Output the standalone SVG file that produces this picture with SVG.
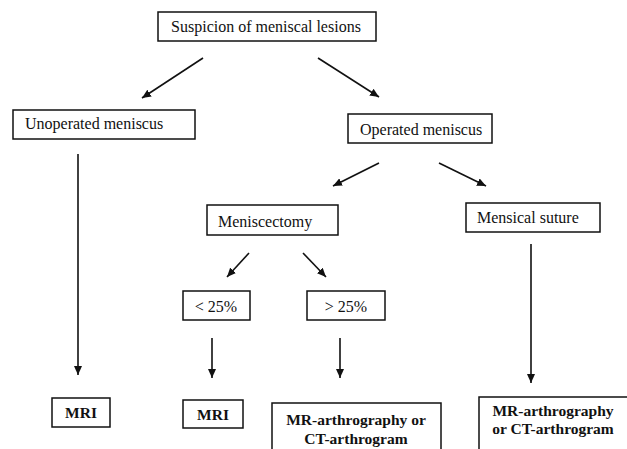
<svg xmlns="http://www.w3.org/2000/svg" width="627" height="449" viewBox="0 0 627 449">
<style>
.box{fill:#fff;stroke:#111;stroke-width:1.5}
.t{font-family:"Liberation Serif","Times New Roman",serif;font-size:16px;fill:#111}
.b{font-weight:bold;font-size:15.5px}
.c{text-anchor:middle}
.ln{stroke:#111;stroke-width:1.6;fill:none;marker-end:url(#ah)}
</style>
<defs>
<marker id="ah" markerUnits="userSpaceOnUse" markerWidth="10" markerHeight="8" refX="9" refY="4" orient="auto">
<path d="M0,0 L9,4 L0,8 Z" fill="#111"/>
</marker>
</defs>
<rect width="627" height="449" fill="#fff"/>
<g id="connectors">
<line class="ln" x1="203" y1="58" x2="142" y2="98"/>
<line class="ln" x1="318" y1="58" x2="379" y2="97"/>
<line class="ln" x1="78" y1="154" x2="78" y2="375"/>
<line class="ln" x1="379" y1="163" x2="333" y2="186"/>
<line class="ln" x1="439" y1="163" x2="486" y2="186"/>
<line class="ln" x1="531" y1="244" x2="531" y2="383"/>
<line class="ln" x1="249" y1="253" x2="227" y2="277"/>
<line class="ln" x1="303" y1="253" x2="326" y2="277"/>
<line class="ln" x1="212" y1="338" x2="212" y2="378"/>
<line class="ln" x1="340" y1="338" x2="340" y2="378"/>
</g>
<g id="n-suspicion"><rect class="box" x="158" y="12" width="218" height="29"/><text class="t c" x="266" y="32">Suspicion of meniscal lesions</text></g>
<g id="n-unoperated"><rect class="box" x="13" y="110" width="182" height="29"/><text class="t" x="25" y="129">Unoperated meniscus</text></g>
<g id="n-operated"><rect class="box" x="348" y="114" width="144" height="29"/><text class="t" x="360" y="135">Operated meniscus</text></g>
<g id="n-meniscectomy"><rect class="box" x="207" y="205" width="131" height="30"/><text class="t" x="218" y="227">Meniscectomy</text></g>
<g id="n-suture"><rect class="box" x="466" y="203" width="134" height="29"/><text class="t" x="477" y="223">Mensical suture</text></g>
<g id="n-lt25"><rect class="box" x="183" y="291" width="67" height="29"/><text class="t c" x="216" y="312">&lt; 25%</text></g>
<g id="n-gt25"><rect class="box" x="307" y="291" width="78" height="29"/><text class="t c" x="346" y="312">&gt; 25%</text></g>
<g id="n-mri1"><rect class="box" x="52" y="398" width="58" height="29"/><text class="t b c" x="81" y="418">MRI</text></g>
<g id="n-mri2"><rect class="box" x="183" y="400" width="60" height="28"/><text class="t b c" x="213" y="420">MRI</text></g>
<g id="n-mrarth1"><rect class="box" x="272" y="403" width="169" height="60"/><text class="t b c" x="356" y="425">MR-arthrography or</text><text class="t b c" x="356" y="444">CT-arthrogram</text></g>
<g id="n-mrarth2"><rect class="box" x="479" y="397" width="165" height="66"/><text class="t b c" x="553" y="416">MR-arthrography</text><text class="t b c" x="553" y="434">or CT-arthrogram</text></g>
</svg>
